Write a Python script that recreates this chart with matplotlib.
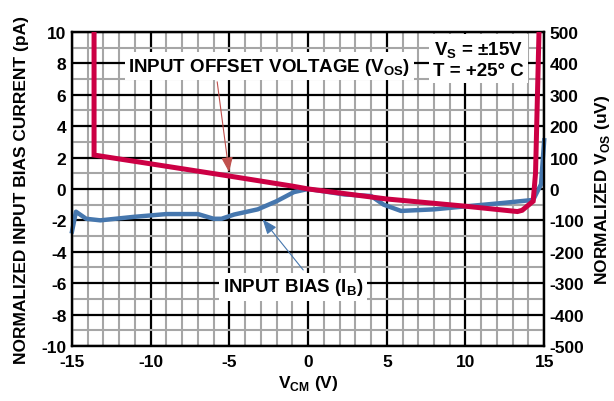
import matplotlib
matplotlib.use("Agg")
import matplotlib.pyplot as plt
from matplotlib.ticker import MultipleLocator

plt.rcParams['font.family'] = ['Liberation Sans', 'DejaVu Sans']
plt.rcParams['font.weight'] = 'bold'
plt.rcParams['axes.unicode_minus'] = False
plt.rcParams['mathtext.fontset'] = 'custom'
plt.rcParams['mathtext.rm'] = 'Liberation Sans:bold'
plt.rcParams['mathtext.bf'] = 'Liberation Sans:bold'

# Input offset voltage (uV, right axis)
vos_vcm = [-13.6, -13.6, -10, -5, -1, 0, 5, 10, 13.3, 13.6, 14.3, 14.45, 14.7]
vos_uv = [560, 108, 80, 41, 9, 0, -32, -55, -72, -68, -39, 50, 560]

# Input bias current (pA, left axis)
ib_vcm = [-15, -14.75, -14.1, -13.2, -11.1, -9.0, -7.0, -6.0, -5.5, -4.7, -3.2,
          -2.0, -0.9, 0, 2.3, 4.0, 4.8, 5.9, 8.0, 10.1, 12.3, 14.3, 14.8, 15]
ib_pa = [-2.7, -1.45, -1.9, -2.0, -1.78, -1.6, -1.6, -1.9, -1.9, -1.63, -1.3,
         -0.78, -0.2, 0, -0.35, -0.45, -1.0, -1.4, -1.3, -1.1, -0.9, -0.7, 0.3, 3.1]

RED = '#cc0044'
BLUE = '#4677ae'
FS = 12.5

fig = plt.figure(figsize=(6.14, 4.02), dpi=100)
ax = fig.add_axes([0.1173, 0.137, 0.769, 0.781])
ax2 = ax.twinx()

ax.set_xlim(-15, 15)
ax.set_ylim(-10, 10)
ax2.set_ylim(-500, 500)

ax.xaxis.set_major_locator(MultipleLocator(5))
ax.xaxis.set_minor_locator(MultipleLocator(1))
ax.yaxis.set_major_locator(MultipleLocator(2))
ax.yaxis.set_minor_locator(MultipleLocator(1))
ax2.yaxis.set_major_locator(MultipleLocator(100))

ax.grid(which='minor', color='#a6a6a6', lw=1.5, zorder=0)
ax.grid(which='major', color='black', lw=1.6, zorder=1)
ax.set_axisbelow(True)

for a in (ax, ax2):
    for s in a.spines.values():
        s.set_linewidth(1.6)
    a.tick_params(which='both', length=0, labelsize=FS, pad=4)
    for lab in a.get_xticklabels() + a.get_yticklabels():
        lab.set_fontweight('bold')
ax.tick_params(axis='x', pad=6)

ax.plot(ib_vcm, ib_pa, color=BLUE, lw=3.2, solid_joinstyle='round', zorder=3, clip_on=False)
ax2.plot(vos_vcm, vos_uv, color=RED, lw=3.6, solid_joinstyle='miter', zorder=4)

ax.set_xlabel(r'V$_\mathbf{CM}$ (V)', fontsize=FS, fontweight='bold', labelpad=3)
ax.set_ylabel('NORMALIZED INPUT BIAS CURRENT (pA)', fontsize=FS, fontweight='bold', labelpad=9)
ax2.set_ylabel(r'NORMALIZED V$_\mathbf{OS}$ (uV)', fontsize=FS, fontweight='bold', labelpad=6)

box = dict(facecolor='white', edgecolor='none', pad=2.5)
ax2.text(-2.45, 7.83 * 50, r'INPUT OFFSET VOLTAGE (V$_\mathbf{OS}$)', fontsize=13.5,
         fontweight='bold', ha='center', va='center', bbox=box, zorder=6)
ax2.text(-0.95, -6.23 * 50, r'INPUT BIAS (I$_\mathbf{B}$)', fontsize=13.5,
         fontweight='bold', ha='center', va='center', bbox=box, zorder=6)
ax2.text(10.8, 8.27 * 50, 'V$_\\mathbf{S}$ = \u00b115V\nT = +25\u00b0 C', fontsize=13.5,
         fontweight='bold', ha='center', va='center', linespacing=1.15,
         bbox=dict(facecolor='white', edgecolor='none', pad=3), zorder=6)

ax2.annotate('', xy=(-5.0, 0.9 * 50), xytext=(-5.8, 7.0 * 50),
             arrowprops=dict(arrowstyle='-|>,head_length=0.9,head_width=0.35',
                             color='#c0504d', lw=0.8), zorder=5)
ax2.annotate('', xy=(-3.0, -1.8 * 50), xytext=(-0.2, -5.3 * 50),
             arrowprops=dict(arrowstyle='-|>,head_length=0.9,head_width=0.35',
                             color=BLUE, lw=0.8), zorder=5)

fig.savefig('out.png', dpi=100)
